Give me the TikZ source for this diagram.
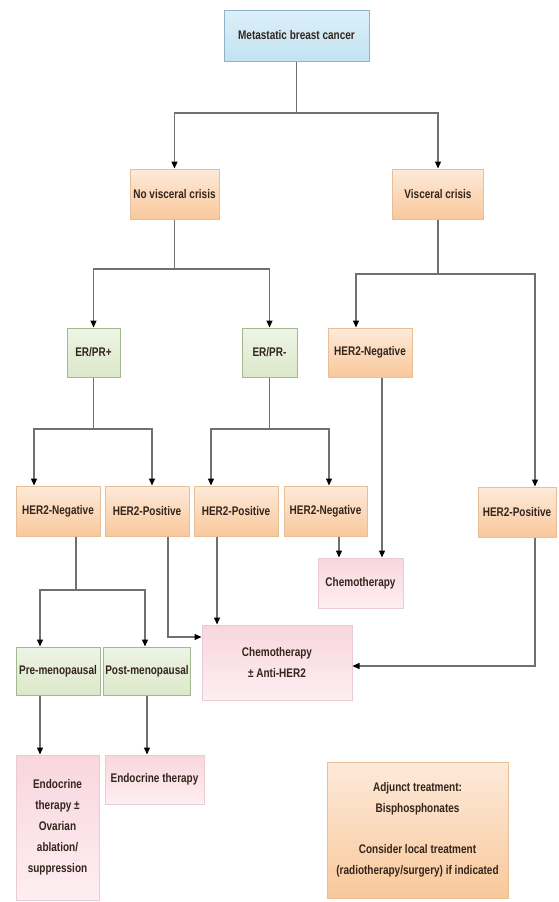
\documentclass[tikz,border=0pt]{standalone}
\usepackage{fontspec}
\setmainfont{Liberation Sans}[FakeStretch=0.8]
\usetikzlibrary{arrows.meta}

\definecolor{txt}{HTML}{33251C}
\definecolor{lne}{HTML}{707070}
\definecolor{bluet}{HTML}{DCF0F9}
\definecolor{blueb}{HTML}{C2E3F2}
\definecolor{bluel}{HTML}{8FB3C8}
\definecolor{oranget}{HTML}{FDEADA}
\definecolor{orangeb}{HTML}{F9C89B}
\definecolor{orangel}{HTML}{E6BE98}
\definecolor{greent}{HTML}{EEF4E6}
\definecolor{greenb}{HTML}{DCE8CA}
\definecolor{greenl}{HTML}{A3B88F}
\definecolor{pinkt}{HTML}{F9D6DE}
\definecolor{pinkb}{HTML}{FDEEF2}
\definecolor{pinkl}{HTML}{EBCBD3}

\begin{document}
\begin{tikzpicture}[x=1pt, y=-1pt,
		every node/.style={font=\bfseries\fontsize{12.5}{21}\selectfont, text=txt, align=center, inner sep=2pt},
		b/.style={rectangle, draw=bluel, line width=1pt, top color=bluet, bottom color=blueb, minimum height=51pt},
		o/.style={rectangle, draw=orangel, line width=1pt, top color=oranget, bottom color=orangeb, minimum height=50pt},
		g/.style={rectangle, draw=greenl, line width=1pt, top color=greent, bottom color=greenb, minimum height=49pt},
		p/.style={rectangle, draw=pinkl, line width=1pt, top color=pinkt, bottom color=pinkb, minimum height=50pt},
		l/.style = {line width=1.3pt, draw=lne},
		r/.style = {-{Triangle[length=7pt, width=6pt, color=black]}, line width=1.3pt, draw=lne},
		]
		\useasboundingbox (0,0) rectangle (558,902);

		%Nodes
		\node[b, minimum width=145pt]	(mbc)	at	(296.5, 35.5)	{Metastatic breast cancer};
		\node[o, minimum width=89pt]	(nvc)	at	(174.5, 194)	{No visceral crisis};
		\node[o, minimum width=91pt]	(vc)	at	(438, 194)		{Visceral crisis};
		\node[g, minimum width=53pt]	(erp)	at	(93.5, 352.5)	{ER/PR+};
		\node[g, minimum width=55pt]	(erm)	at	(269.5, 352.5)	{ER/PR-};
		\node[o, minimum width=84pt, minimum height=49pt]	(hnv)	at	(370, 352.5)	{HER2-Negative};
		\node[o, minimum width=84pt]	(hn1)	at	(58, 511)		{HER2-Negative};
		\node[o, minimum width=84pt]	(hp1)	at	(147, 511)		{HER2-Positive};
		\node[o, minimum width=84pt]	(hp2)	at	(236, 511)		{HER2-Positive};
		\node[o, minimum width=83pt]	(hn2)	at	(325.5, 511)	{HER2-Negative};
		\node[o, minimum width=78pt]	(hp3)	at	(517, 512)		{HER2-Positive};
		\node[p, minimum width=85pt]	(chemo)	at	(360.5, 583)	{Chemotherapy};
		\node[p, minimum width=150pt, minimum height=75pt]	(cah)	at	(277, 662.5)	{Chemotherapy\\± Anti-HER2};
		\node[g, minimum width=84pt, minimum height=48pt]	(pre)	at	(58, 671)	{Pre-menopausal};
		\node[g, minimum width=84pt, minimum height=48pt]	(post)	at	(147, 671)	{Post-menopausal};
		\node[p, minimum width=83pt, minimum height=145pt]	(et1)	at	(57.5, 827.5)	{Endocrine\\therapy ±\\Ovarian\\ablation/\\suppression};
		\node[p, minimum width=99pt, minimum height=49pt]	(et2)	at	(154.5, 779.5)	{Endocrine therapy};
		\node[o, minimum width=181pt, minimum height=136pt]	(adj)	at	(417.5, 830)
			{Adjunct treatment:\\Bisphosphonates\\[20pt]Consider local treatment\\(radiotherapy/surgery) if indicated};

		%Junctions
		\coordinate	(j1)	at	(296.5, 113);
		\coordinate	(j2)	at	(174.5, 269);
		\coordinate	(j3)	at	(438, 274);
		\coordinate	(j4)	at	(93.5, 429);
		\coordinate	(j5)	at	(269.5, 429);
		\coordinate	(j6)	at	(76, 590);

		%Connectors
		\draw[l]	(mbc)	--	(j1);
		\draw[r]	(j1)	-|	(nvc);
		\draw[r]	(j1)	-|	(vc);
		\draw[l]	(nvc)	--	(j2);
		\draw[r]	(j2)	-|	(erp);
		\draw[r]	(j2)	-|	(erm);
		\draw[l]	(vc)	--	(j3);
		\draw[r]	(j3)	-|	([xshift=-14pt]hnv.north);
		\draw[r]	(j3)	-|	([xshift=18pt]hp3.north);
		\draw[l]	(erp)	--	(j4);
		\draw[r]	(j4)	-|	([xshift=-24pt]hn1.north);
		\draw[r]	(j4)	-|	([xshift=5pt]hp1.north);
		\draw[l]	(erm)	--	(j5);
		\draw[r]	(j5)	-|	([xshift=-25pt]hp2.north);
		\draw[r]	(j5)	-|	([xshift=3.5pt]hn2.north);
		\draw[l]	([xshift=18pt]hn1.south)	--	(j6);
		\draw[r]	(j6)	-|	([xshift=-18pt]pre.north);
		\draw[r]	(j6)	-|	([xshift=-2pt]post.north);
		\draw[r]	([xshift=21pt]hp1.south)	|-	([yshift=25.5pt]cah.west);
		\draw[r]	([xshift=-19pt]hp2.south)	--	([xshift=-19pt]hp2.south |- cah.north);
		\draw[r]	([xshift=18pt]hp3.south)	|-	([yshift=-3.5pt]cah.east);
		\draw[r]	([xshift=13.5pt]hn2.south)	--	([xshift=13.5pt]hn2.south |- chemo.north);
		\draw[r]	([xshift=12pt]hnv.south)	--	([xshift=12pt]hnv.south |- chemo.north);
		\draw[r]	([xshift=-18pt]pre.south)	--	([xshift=-18pt]pre.south |- et1.north);
		\draw[r]	(post)	--	(post |- et2.north);
	\end{tikzpicture}
\end{document}
